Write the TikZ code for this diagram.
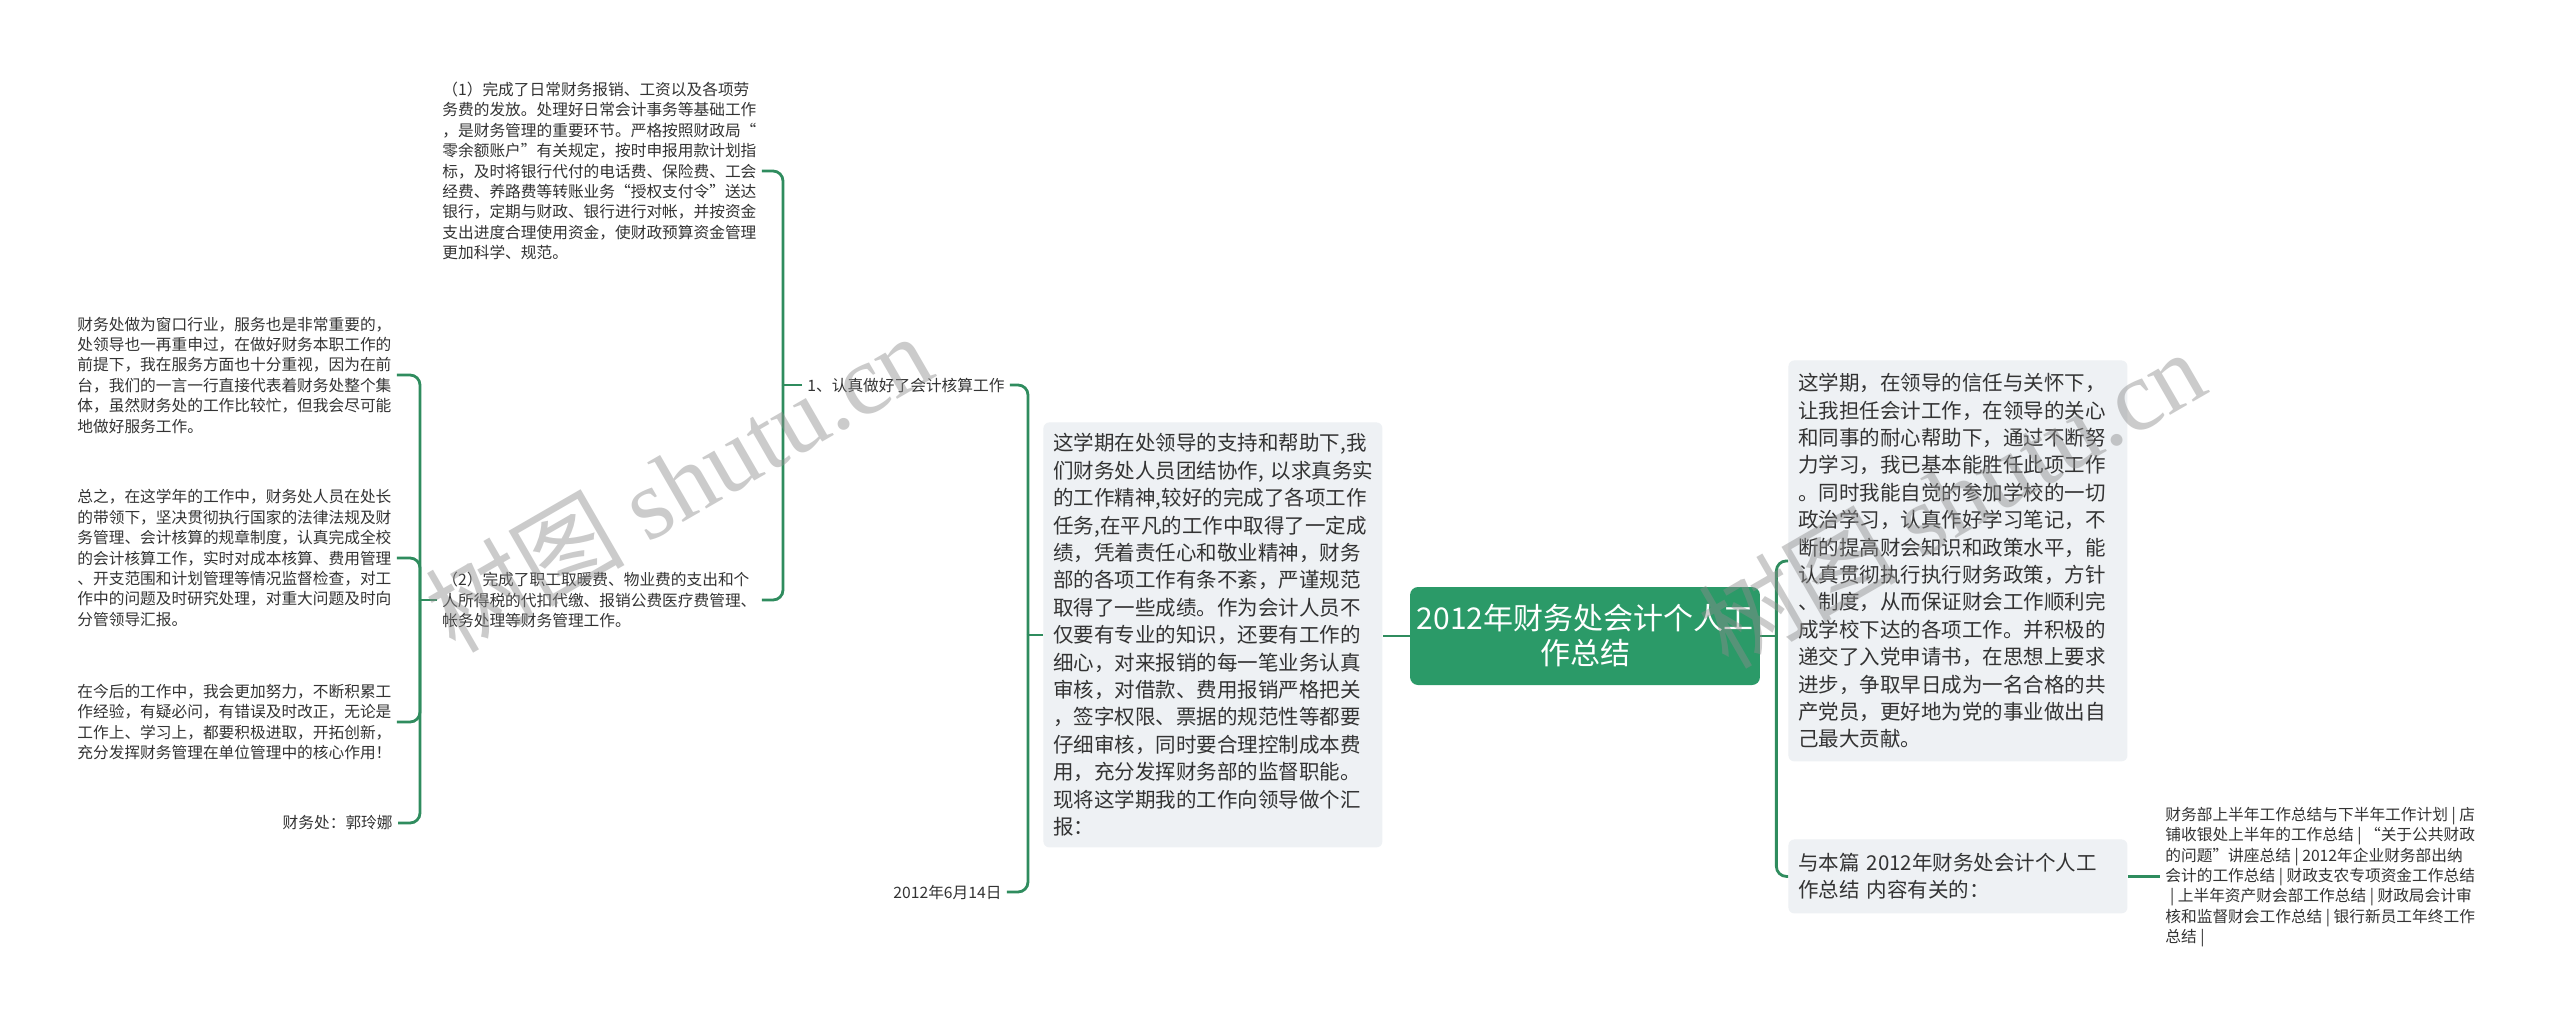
\documentclass[tikz,border=0pt]{standalone}
\usepackage{fontspec}
\setmainfont{Noto Sans CJK SC}
\newfontfamily\wmfont{Liberation Serif}
\definecolor{rootg}{HTML}{2B9A68}
\definecolor{lineg}{HTML}{2F8C5E}
\definecolor{boxbg}{HTML}{EEF1F4}
\definecolor{txt}{HTML}{333333}
\tikzset{
  small/.style={inner xsep=2.5pt, inner ysep=0pt, align=left, text=txt,
    font=\fontsize{7.85pt}{10.2pt}\selectfont},
  mainbox/.style={anchor=north west, fill=boxbg, rounded corners=3pt, inner xsep=5pt,
    text width=159.5pt, align=left, text=txt, font=\fontsize{10.25pt}{13.7pt}\selectfont},
  rootbox/.style={fill=rootg, rounded corners=4pt, text=white, align=center,
    minimum width=172pt, minimum height=49pt, font=\fontsize{15pt}{17.5pt}\selectfont},
  conn/.style={draw=lineg, line width=1.4pt, rounded corners=5pt},
  wm/.style={text=black!45, opacity=0.45, font=\fontsize{50pt}{50pt}\selectfont}
}
\begin{document}
\begin{tikzpicture}[x=0.5pt,y=-0.5pt]
\fill[white] (0,0) rectangle (2560,1024);
\useasboundingbox (0,0) rectangle (2560,1024);

% root
\node[rootbox] (root) at (1585,636) {2012年财务处会计个人工\\作总结};

% left main box
\node[mainbox, minimum height=212.5pt] (L) at (1043,422) {这学期在处领导的支持和帮助下,我\\
\mbox{们财务处人员团结协作, 以求真务实}\\
的工作精神,较好的完成了各项工作\\
任务,在平凡的工作中取得了一定成\\
绩，凭着责任心和敬业精神，财务\\
部的各项工作有条不紊，严谨规范\\
取得了一些成绩。作为会计人员不\\
仅要有专业的知识，还要有工作的\\
细心，对来报销的每一笔业务认真\\
审核，对借款、费用报销严格把关\\
，签字权限、票据的规范性等都要\\
仔细审核，同时要合理控制成本费\\
用，充分发挥财务部的监督职能。\\
现将这学期我的工作向领导做个汇\\
报：};

% right boxes
\node[mainbox, minimum height=200.5pt] (R1) at (1788,360) {这学期，在领导的信任与关怀下，\\
让我担任会计工作，在领导的关心\\
和同事的耐心帮助下，通过不断努\\
力学习，我已基本能胜任此项工作\\
。同时我能自觉的参加学校的一切\\
政治学习，认真作好学习笔记，不\\
断的提高财会知识和政策水平，能\\
认真贯彻执行执行财务政策，方针\\
、制度，从而保证财会工作顺利完\\
成学校下达的各项工作。并积极的\\
递交了入党申请书，在思想上要求\\
进步，争取早日成为一名合格的共\\
产党员，更好地为党的事业做出自\\
己最大贡献。};

\node[mainbox, minimum height=37pt] (R2) at (1788,839) {\mbox{与本篇 2012年财务处会计个人工}\\\mbox{作总结 内容有关的：}};

\node[small, anchor=west] (list) at (2160,877) {财务部上半年工作总结与下半年工作计划 | 店\\
铺收银处上半年的工作总结 | “关于公共财政\\
的问题”讲座总结 | 2012年企业财务部出纳\\
会计的工作总结 | 财政支农专项资金工作总结\\
\hspace*{0.3em}| 上半年资产财会部工作总结 | 财政局会计审\\
核和监督财会工作总结 | 银行新员工年终工作\\
总结 |};

% left side small nodes
\node[small, anchor=west] (k1) at (802,385) {1、认真做好了会计核算工作};
\node[small, anchor=west] (date) at (888,892) {2012年6月14日};

\node[small, anchor=west] (n1) at (437,171) {（1）完成了日常财务报销、工资以及各项劳\\
务费的发放。处理好日常会计事务等基础工作\\
，是财务管理的重要环节。严格按照财政局“\\
零余额账户”有关规定，按时申报用款计划指\\
标，及时将银行代付的电话费、保险费、工会\\
经费、养路费等转账业务“授权支付令”送达\\
银行，定期与财政、银行进行对帐，并按资金\\
支出进度合理使用资金，使财政预算资金管理\\
更加科学、规范。};

\node[small, anchor=west] (n2) at (437,600) {（2）完成了职工取暖费、物业费的支出和个\\
人所得税的代扣代缴、报销公费医疗费管理、\\
帐务处理等财务管理工作。};

\node[small, anchor=west] (a) at (72,375) {财务处做为窗口行业，服务也是非常重要的，\\
处领导也一再重申过，在做好财务本职工作的\\
前提下，我在服务方面也十分重视，因为在前\\
台，我们的一言一行直接代表着财务处整个集\\
体，虽然财务处的工作比较忙，但我会尽可能\\
地做好服务工作。};

\node[small, anchor=west] (b) at (72,558) {总之，在这学年的工作中，财务处人员在处长\\
的带领下，坚决贯彻执行国家的法律法规及财\\
务管理、会计核算的规章制度，认真完成全校\\
的会计核算工作，实时对成本核算、费用管理\\
、开支范围和计划管理等情况监督检查，对工\\
作中的问题及时研究处理，对重大问题及时向\\
分管领导汇报。};

\node[small, anchor=west] (c) at (72,722) {在今后的工作中，我会更加努力，不断积累工\\
作经验，有疑必问，有错误及时改正，无论是\\
工作上、学习上，都要积极进取，开拓创新，\\
充分发挥财务管理在单位管理中的核心作用！};

\node[small, anchor=east] (d) at (398,823) {财务处：郭玲娜};

% connectors
\draw[conn] (root.west) -- (root.west -| L.east);

\coordinate (rj) at ([xshift=8pt]root.east);
\draw[conn] (root.east) -- (rj);
\draw[conn] (rj) |- (R1.west);
\draw[conn] (rj) |- (R2.west);
\draw[conn] (R2.east) -- (R2.east -| list.west);

\coordinate (lj) at ([xshift=-7.5pt]L.west);
\draw[conn] (L.west) -- (lj);
\draw[conn] (lj) |- (k1.east);
\draw[conn] (lj) |- (date.east);

\coordinate (kj) at ([xshift=-9.5pt]k1.west);
\draw[conn] (k1.west) -- (kj);
\draw[conn] (kj) |- (n1.east);
\draw[conn] (kj) |- (n2.east);

\coordinate (nj) at ([xshift=-8.5pt]n2.west);
\draw[conn] (n2.west) -- (nj);
\draw[conn] (nj) |- (a.east);
\draw[conn] (nj) |- (b.east);
\draw[conn] (nj) |- (c.east);
\draw[conn] (nj) |- (d.east);

% watermarks
\node[wm, rotate=30] (wm1) at (678,482) {树图 {\wmfont shutu.cn}};
\node[wm, rotate=30] (wm2) at (1951,498) {树图 {\wmfont shutu.cn}};
\end{tikzpicture}
\end{document}
